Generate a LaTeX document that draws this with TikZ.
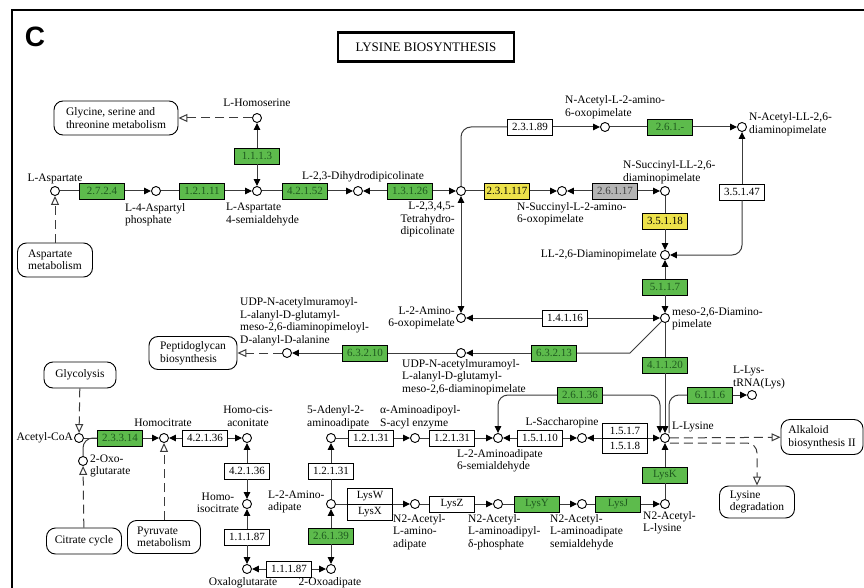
\documentclass[tikz,border=0pt]{standalone}
\usepackage{fontspec}
\setmainfont{Liberation Serif}
\newfontfamily\panelfont{Liberation Sans}
\usepackage{tikz}
\usetikzlibrary{shapes.geometric, positioning, arrows.meta}
\usepackage{xcolor}
\definecolor{KeggGreen}{HTML}{5DBB4C}
\definecolor{KeggGreenText}{HTML}{1F5A1F}
\definecolor{KeggYellow}{HTML}{EDE24A}
\definecolor{KeggGray}{HTML}{B4B4B4}
\definecolor{KeggLine}{HTML}{3C3C3C}
\newcommand{\lblfont}{\fontsize{11.5}{12.5}\selectfont}
\newcommand{\enzfont}{\fontsize{11}{12}\selectfont}

\begin{document}
\begin{tikzpicture}[
                x=1pt, y=-1pt,
                cpd/.style={circle, draw=black, fill=white, line width=0.9pt, inner sep=0pt, minimum size=9pt},
                enz/.style={draw=black, fill=white, line width=0.8pt, minimum width=45pt, minimum height=16pt, inner sep=0pt, font=\enzfont},
                ezg/.style={enz, fill=KeggGreen, text=KeggGreenText},
                ezy/.style={enz, fill=KeggYellow},
                ezgr/.style={enz, fill=KeggGray, text=black!75},
                mapbox/.style={draw=black, fill=white, line width=0.9pt, rounded corners=9pt, align=left, font=\lblfont, inner sep=0pt},
                lbl/.style={font=\lblfont, inner sep=0pt, align=left},
                rx/.style={draw=KeggLine, line width=1pt},
                fw/.style={rx, -{Triangle[length=7pt, width=6.5pt, color=black]}},
                bk/.style={rx, {Triangle[length=7pt, width=6.5pt, color=black]}-},
                rv/.style={rx, {Triangle[length=7pt, width=6.5pt, color=black]}-{Triangle[length=7pt, width=6.5pt, color=black]}},
                mapl/.style={rx, dash pattern=on 9pt off 5pt, -{Triangle[open, length=9pt, width=8pt, fill=white]}}
            ]
                \useasboundingbox (0,0) rectangle (864,588);
                \fill[white] (0,0) rectangle (864,588);
                \draw[line width=2.2pt] (12,588) -- (12,10) -- (864,10);
                \node[font=\panelfont\bfseries\fontsize{28}{28}\selectfont] (panel) at (35,37) {C};
                \node[draw=black, line width=2.2pt, minimum width=176pt, minimum height=29pt, font=\fontsize{13}{15}\selectfont] (title) at (426,47) {LYSINE BIOSYNTHESIS};

                % Compounds
                \node[cpd] (asp) at (55,191) {};
                \node[cpd] (asp4p) at (156,191) {};
                \node[cpd] (aspsa) at (257,191) {};
                \node[cpd] (hse) at (257,118) {};
                \node[cpd] (dhdp) at (358,191) {};
                \node[cpd] (thdp) at (461,191) {};
                \node[cpd] (nsucaop) at (562,191) {};
                \node[cpd] (nsucdap) at (665,191) {};
                \node[cpd] (nacaop) at (605,127) {};
                \node[cpd] (nacdap) at (742,127) {};
                \node[cpd] (lldap) at (665,255) {};
                \node[cpd] (meso) at (665,318) {};
                \node[cpd] (aop) at (461,318) {};
                \node[cpd] (udpmeso) at (461,353) {};
                \node[cpd] (udpdaa) at (287,353) {};
                \node[cpd] (accoa) at (79,438) {};
                \node[cpd] (oxoglu) at (83,461) {};
                \node[cpd] (hcit) at (164,438) {};
                \node[cpd] (hcis) at (247,438) {};
                \node[cpd] (hicit) at (247,504) {};
                \node[cpd] (oxaglu) at (247,569) {};
                \node[cpd] (oxoad) at (331,569) {};
                \node[cpd] (aad) at (331,504) {};
                \node[cpd] (adenyl) at (331,438) {};
                \node[cpd] (aadsae) at (415,438) {};
                \node[cpd] (sald) at (498,438) {};
                \node[cpd] (sacch) at (582,438) {};
                \node[cpd] (lys) at (665,438) {};
                \node[cpd] (naad) at (415,504) {};
                \node[cpd] (naadp) at (498,504) {};
                \node[cpd] (naasa) at (582,504) {};
                \node[cpd] (nalys) at (665,504) {};
                \node[cpd] (lystrna) at (752,395) {};

                % Compound labels
                \node[lbl] at (55,179) {L-Aspartate};
                \node[lbl, anchor=north west] at (125,203) {L-4-Aspartyl\\phosphate};
                \node[lbl, anchor=north west] at (226,203) {L-Aspartate\\4-semialdehyde};
                \node[lbl, above=6pt of hse] {L-Homoserine};
                \node[lbl] at (363,177) {L-2,3-Dihydrodipicolinate};
                \node[lbl, anchor=north east, align=right] at (455,202) {L-2,3,4,5-\\Tetrahydro-\\dipicolinate};
                \node[lbl, anchor=north west] at (517,202) {N-Succinyl-L-2-amino-\\6-oxopimelate};
                \node[lbl, anchor=south west] at (623,184) {N-Succinyl-LL-2,6-\\diaminopimelate};
                \node[lbl, anchor=south west] at (565,119) {N-Acetyl-L-2-amino-\\6-oxopimelate};
                \node[lbl, anchor=west] at (749,124) {N-Acetyl-LL-2,6-\\diaminopimelate};
                \node[lbl, anchor=east] at (657,255) {LL-2,6-Diaminopimelate};
                \node[lbl, anchor=west] at (672,319) {meso-2,6-Diamino-\\pimelate};
                \node[lbl, anchor=east, align=right] at (455,318) {L-2-Amino-\\6-oxopimelate};
                \node[lbl, anchor=north west] at (402,359) {UDP-N-acetylmuramoyl-\\L-alanyl-D-glutamyl-\\meso-2,6-diaminopimelate};
                \node[lbl, anchor=south west] at (240,346) {UDP-N-acetylmuramoyl-\\L-alanyl-D-glutamyl-\\meso-2,6-diaminopimeloyl-\\D-alanyl-D-alanine};
                \node[lbl, anchor=east] at (73,438) {Acetyl-CoA};
                \node[lbl, anchor=west] at (90,466) {2-Oxo-\\glutarate};
                \node[lbl] at (163,423) {Homocitrate};
                \node[lbl, align=center] at (248,416) {Homo-cis-\\aconitate};
                \node[lbl, align=center] at (218,503) {Homo-\\isocitrate};
                \node[lbl] at (243,583) {Oxaloglutarate};
                \node[lbl] at (330,583) {2-Oxoadipate};
                \node[lbl, anchor=west] at (268,502) {L-2-Amino-\\adipate};
                \node[lbl, anchor=south west] at (307,429) {5-Adenyl-2-\\aminoadipate};
                \node[lbl, anchor=south west] at (380,429) {α-Aminoadipoyl-\\S-acyl enzyme};
                \node[lbl, anchor=north west] at (457,449) {L-2-Aminoadipate\\6-semialdehyde};
                \node[lbl] at (562,423) {L-Saccharopine};
                \node[lbl, anchor=west] at (672,427) {L-Lysine};
                \node[lbl, anchor=south west] at (733,389) {L-Lys-\\tRNA(Lys)};
                \node[lbl, anchor=north west] at (393,514) {N2-Acetyl-\\L-amino-\\adipate};
                \node[lbl, anchor=north west] at (468,514) {N2-Acetyl-\\L-aminoadipyl-\\δ-phosphate};
                \node[lbl, anchor=north west] at (550,514) {N2-Acetyl-\\L-aminoadipate\\semialdehyde};
                \node[lbl, anchor=north west] at (643,511) {N2-Acetyl-\\L-lysine};

                % Enzymes
                \node[ezg] (e2724) at (102,191) {2.7.2.4};
                \node[ezg] (e12111) at (202,191) {1.2.1.11};
                \node[ezg] (e1113) at (257,156) {1.1.1.3};
                \node[ezg] (e42152) at (305,191) {4.2.1.52};
                \node[ezg] (e13126) at (410,191) {1.3.1.26};
                \node[ezy] (e231117) at (507,191) {2.3.1.117};
                \node[ezgr] (e26117) at (615,191) {2.6.1.17};
                \node[enz] (e23189) at (530,127) {2.3.1.89};
                \node[ezg] (e261x) at (670,127) {2.6.1.-};
                \node[enz] (e35147) at (742,192) {3.5.1.47};
                \node[ezy] (e35118) at (665,221) {3.5.1.18};
                \node[ezg] (e5117) at (665,287) {5.1.1.7};
                \node[enz] (e14116) at (565,318) {1.4.1.16};
                \node[ezg] (e63213) at (554,353) {6.3.2.13};
                \node[ezg] (e63210) at (365,353) {6.3.2.10};
                \node[ezg] (e41120) at (665,365) {4.1.1.20};
                \node[ezg] (e26136) at (580,395) {2.6.1.36};
                \node[ezg] (e6116) at (710,395) {6.1.1.6};
                \node[enz] (e15110) at (540,438) {1.5.1.10};
                \node[enz] (e12131a) at (371,438) {1.2.1.31};
                \node[enz] (e12131b) at (452,438) {1.2.1.31};
                \node[enz] (e12131c) at (331,471) {1.2.1.31};
                \node[enz] (lysz) at (452,504) {LysZ};
                \node[ezg] (lysy) at (537,504) {LysY};
                \node[ezg] (lysj) at (618,504) {LysJ};
                \node[ezg] (lysk) at (665,475) {LysK};
                \node[ezg] (e26139) at (331,536) {2.6.1.39};
                \node[enz] (e11187a) at (247,537) {1.1.1.87};
                \node[enz] (e11187b) at (289,569) {1.1.1.87};
                \node[enz] (e42136a) at (205,438) {4.2.1.36};
                \node[enz] (e42136b) at (247,471) {4.2.1.36};
                \node[ezg] (e23314) at (120,438) {2.3.3.14};

                % Maps
                \node[mapbox, minimum width=124pt, minimum height=34pt] (glymap) at (116,118) {Glycine, serine and\\threonine metabolism};
                \node[mapbox, minimum width=75pt, minimum height=34pt] (aspmap) at (55,260) {Aspartate\\metabolism};
                \node[mapbox, minimum width=88pt, minimum height=33pt] (pgmap) at (193,353) {Peptidoglycan\\biosynthesis};
                \node[mapbox, minimum width=72pt, minimum height=26pt] (glyc) at (80,375) {Glycolysis};
                \node[mapbox, minimum width=75pt, minimum height=26pt] (tca) at (84,541) {Citrate cycle};
                \node[mapbox, minimum width=73pt, minimum height=33pt] (pyr) at (164,537) {Pyruvate\\metabolism};
                \node[mapbox, minimum width=82pt, minimum height=35pt] (alk) at (822,437) {Alkaloid\\biosynthesis II};
                \node[mapbox, minimum width=75pt, minimum height=32pt] (lysdeg) at (757,502) {Lysine\\degradation};

                % Reactions, aspartate branch
                \draw[rx] (asp) -- (e2724);
                \draw[fw] (e2724) -- (asp4p);
                \draw[rx] (asp4p) -- (e12111);
                \draw[fw] (e12111) -- (aspsa);
                \draw[bk] (aspsa) -- (e1113);
                \draw[fw] (e1113) -- (hse);
                \draw[mapl] (hse) -- (glymap);
                \draw[mapl] (aspmap) -- (asp);
                \draw[rx] (aspsa) -- (e42152);
                \draw[fw] (e42152) -- (dhdp);
                \draw[bk] (dhdp) -- (e13126);
                \draw[fw] (e13126) -- (thdp);
                \draw[rx] (thdp) -- (e231117);
                \draw[fw] (e231117) -- (nsucaop);
                \draw[bk] (nsucaop) -- (e26117);
                \draw[fw] (e26117) -- (nsucdap);
                \draw[rx] (nsucdap) -- (e35118);
                \draw[fw] (e35118) -- (lldap);
                \draw[rx, rounded corners=10pt] (thdp) |- (e23189);
                \draw[fw] (e23189) -- (nacaop);
                \draw[rx] (nacaop) -- (e261x);
                \draw[fw] (e261x) -- (nacdap);
                \draw[fw] (e35147) -- (nacdap);
                \draw[fw, rounded corners=10pt] (e35147) |- (lldap);
                \draw[bk] (lldap) -- (e5117);
                \draw[fw] (e5117) -- (meso);
                \draw[rv] (thdp) -- (aop);
                \draw[bk] (aop) -- (e14116);
                \draw[fw] (e14116) -- (meso);
                \coordinate (m1) at (630,353);
                \draw[rx] (meso) -- (m1) -- (e63213);
                \draw[fw] (e63213) -- (udpmeso);
                \draw[rx] (udpmeso) -- (e63210);
                \draw[fw] (e63210) -- (udpdaa);
                \draw[mapl] (udpdaa) -- (pgmap);
                \draw[rx] (meso) -- (e41120);
                \draw[fw] (e41120) -- (lys);

                % Reactions, aminoadipate branch
                \draw[mapl] (glyc) -- (accoa);
                \draw[rx] (accoa) -- (e23314);
                \draw[rx, rounded corners=10pt] (oxoglu) |- (e23314.west);
                \draw[mapl] (tca) -- (oxoglu);
                \draw[fw] (e23314) -- (hcit);
                \draw[mapl] (pyr) -- (hcit);
                \draw[bk] (hcit) -- (e42136a);
                \draw[fw] (e42136a) -- (hcis);
                \draw[bk] (hcis) -- (e42136b);
                \draw[fw] (e42136b) -- (hicit);
                \draw[bk] (hicit) -- (e11187a);
                \draw[fw] (e11187a) -- (oxaglu);
                \draw[bk] (oxaglu) -- (e11187b);
                \draw[fw] (e11187b) -- (oxoad);
                \draw[bk] (oxoad) -- (e26139);
                \draw[fw] (e26139) -- (aad);
                \draw[rx] (aad) -- (e12131c);
                \draw[fw] (e12131c) -- (adenyl);
                \draw[rx] (adenyl) -- (e12131a);
                \draw[fw] (e12131a) -- (aadsae);
                \draw[rx] (aadsae) -- (e12131b);
                \draw[fw] (e12131b) -- (sald);
                \draw[bk] (sald) -- (e15110);
                \draw[fw] (e15110) -- (sacch);
                \draw[rv] (sacch) -- (lys);
                \draw[bk, rounded corners=10pt] (sald) |- (e26136);
                \draw[fw, rounded corners=10pt] (e26136) -| ([xshift=-5pt]lys.north);
                \draw[rx, rounded corners=10pt] ([xshift=4pt]lys.north) |- (e6116);
                \draw[fw] (e6116) -- (lystrna);
                \draw[mapl] (lys) -- (alk);
                \draw[mapl, rounded corners=10pt] ([yshift=-5pt]lys.east) -| (lysdeg);
                \draw[fw] (aad) -- (naad);
                \draw[rx] (naad) -- (lysz);
                \draw[fw] (lysz) -- (naadp);
                \draw[rx] (naadp) -- (lysy);
                \draw[fw] (lysy) -- (naasa);
                \draw[rx] (naasa) -- (lysj);
                \draw[fw] (lysj) -- (nalys);
                \draw[rx] (nalys) -- (lysk);
                \draw[fw] (lysk) -- (lys);

                % Stacked enzymes on shared lines
                \node[enz, minimum height=15pt] (e1517) at (625,430.5) {1.5.1.7};
                \node[enz, minimum height=15pt] (e1518) at (625,445.5) {1.5.1.8};
                \node[enz] (lysw) at (370,496) {LysW};
                \node[enz] (lysx) at (370,512) {LysX};
            \end{tikzpicture}
\end{document}
